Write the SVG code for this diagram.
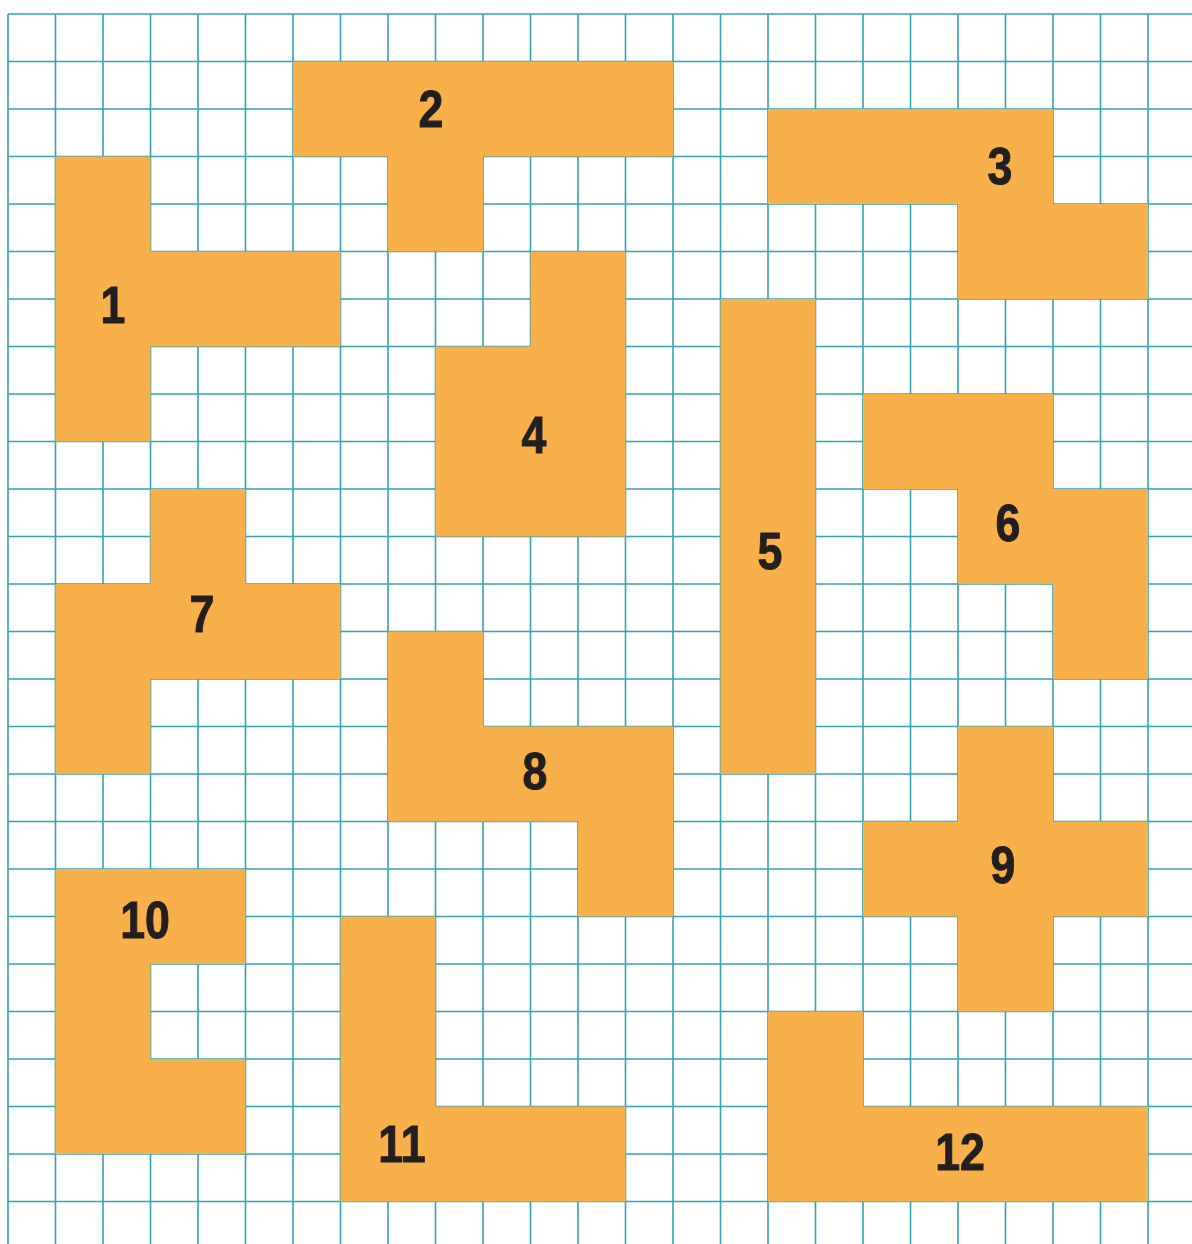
<svg xmlns="http://www.w3.org/2000/svg" width="1192" height="1244" viewBox="0 0 1192 1244">
<style>
.grid{fill:none;stroke:#33a4b2;stroke-width:1.6}
.piece{fill:#f8b14a}
.lbl{font-family:"Liberation Sans",Arial,sans-serif;font-weight:bold;font-size:52px;fill:#231f20;stroke:#231f20;stroke-width:1;text-anchor:middle}
</style>
<rect width="1192" height="1244" fill="#ffffff"/>
<g id="grid">
<path class="grid" d="M8 14V1244M55.5 14V1244M103 14V1244M150.5 14V1244M198 14V1244M245.5 14V1244M293 14V1244M340.5 14V1244M388 14V1244M435.5 14V1244M483 14V1244M530.5 14V1244M578 14V1244M625.5 14V1244M673 14V1244M720.5 14V1244M768 14V1244M815.5 14V1244M863 14V1244M910.5 14V1244M958 14V1244M1005.5 14V1244M1053 14V1244M1100.5 14V1244M1148 14V1244"/>
<path class="grid" d="M8 14H1192M8 61.5H1192M8 109H1192M8 156.5H1192M8 204H1192M8 251.5H1192M8 299H1192M8 346.5H1192M8 394H1192M8 441.5H1192M8 489H1192M8 536.5H1192M8 584H1192M8 631.5H1192M8 679H1192M8 726.5H1192M8 774H1192M8 821.5H1192M8 869H1192M8 916.5H1192M8 964H1192M8 1011.5H1192M8 1059H1192M8 1106.5H1192M8 1154H1192M8 1201.5H1192"/>
</g>
<g id="piece1"><path class="piece" d="M55.5 156.5H150.5V251.5H340.5V346.5H150.5V441.5H55.5Z"/><text class="lbl" transform="translate(113 323) scale(0.86 1)">1</text></g>
<g id="piece2"><path class="piece" d="M293 61.5H673V156.5H483V251.5H388V156.5H293Z"/><text class="lbl" transform="translate(431 127) scale(0.86 1)">2</text></g>
<g id="piece3"><path class="piece" d="M768 109H1053V204H1148V299H958V204H768Z"/><text class="lbl" transform="translate(1000 184) scale(0.86 1)">3</text></g>
<g id="piece4"><path class="piece" d="M530.5 251.5H625.5V536.5H435.5V346.5H530.5Z"/><text class="lbl" transform="translate(534 453) scale(0.86 1)">4</text></g>
<g id="piece5"><rect class="piece" x="720.5" y="299" width="95" height="475"/><text class="lbl" transform="translate(770 569) scale(0.86 1)">5</text></g>
<g id="piece6"><path class="piece" d="M863 394H1053V489H1148V679H1053V584H958V489H863Z"/><text class="lbl" transform="translate(1008 541) scale(0.86 1)">6</text></g>
<g id="piece7"><path class="piece" d="M150.5 489H245.5V584H340.5V679H150.5V774H55.5V584H150.5Z"/><text class="lbl" transform="translate(202 632) scale(0.86 1)">7</text></g>
<g id="piece8"><path class="piece" d="M388 631.5H483V726.5H673V916.5H578V821.5H388Z"/><text class="lbl" transform="translate(535 789) scale(0.86 1)">8</text></g>
<g id="piece9"><path class="piece" d="M958 726.5H1053V821.5H1148V916.5H1053V1011.5H958V916.5H863V821.5H958Z"/><text class="lbl" transform="translate(1003 883) scale(0.86 1)">9</text></g>
<g id="piece10"><path class="piece" d="M55.5 869H245.5V964H150.5V1059H245.5V1154H55.5Z"/><text class="lbl" transform="translate(145 938) scale(0.86 1)">10</text></g>
<g id="piece11"><path class="piece" d="M340.5 916.5H435.5V1106.5H625.5V1201.5H340.5Z"/><text class="lbl" transform="translate(402 1162) scale(0.86 1)">11</text></g>
<g id="piece12"><path class="piece" d="M768 1011.5H863V1106.5H1148V1201.5H768Z"/><text class="lbl" transform="translate(960 1170) scale(0.86 1)">12</text></g>
<g id="connectors"></g>
</svg>
